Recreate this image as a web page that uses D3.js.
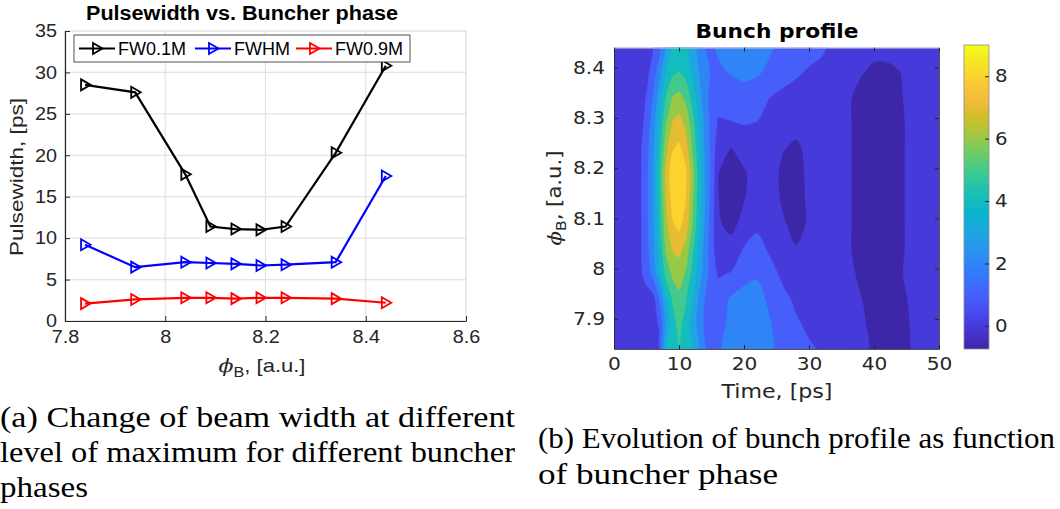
<!DOCTYPE html>
<html>
<head>
<meta charset="utf-8">
<title>Pulsewidth and bunch profile</title>
<script src="https://cdn.jsdelivr.net/npm/d3@7"></script>
<style>
  body { margin: 0; background: #fff; }
  .lft text { font-family: "Liberation Sans", Arial, sans-serif; }
  .rgt text { font-family: "DejaVu Sans", sans-serif; }
  .cap { font-family: "Liberation Serif", "Times New Roman", serif; fill: #000; }
</style>
</head>
<body>
<svg id="fig" width="1060" height="509"></svg>
<script>
// ---- left panel data ----
var phase = [7.84, 7.94, 8.04, 8.09, 8.14, 8.19, 8.24, 8.34, 8.44];
var fw01 = [28.5, 27.6, 17.7, 11.4, 11.1, 11.0, 11.4, 20.3, 30.8];
var fwhm = [9.2, 6.5, 7.1, 7.0, 6.9, 6.7, 6.8, 7.1, 17.5];
var fw09 = [2.1, 2.6, 2.8, 2.8, 2.7, 2.8, 2.8, 2.7, 2.2];
var seriesNames = ["FW0.1M", "FWHM", "FW0.9M"];
var seriesColors = ["#000000", "#0000ff", "#ff0000"];
var xTicksL = [7.8, 8, 8.2, 8.4, 8.6];
var yTicksL = [0, 5, 10, 15, 20, 25, 30, 35];

// ---- right panel data (bunch profile, rows = buncher phase, cols = time) ----
var profileTime = [0, 4, 5, 6, 7, 8, 9, 10, 11, 12, 13, 14, 15, 16, 18, 20, 22, 24, 26, 28, 30, 32, 34, 36, 38, 40, 42, 44, 46, 48, 50];
var profilePhase = [8.44, 8.39, 8.34, 8.29, 8.24, 8.19, 8.14, 8.09, 8.04, 7.99, 7.94, 7.89, 7.84];
var profile = [
  [0.5, 0.55, 0.65, 0.9, 1.6, 3.0, 4.05, 4.3, 4.1, 3.3, 2.6, 2.0, 1.8, 2.1, 2.6, 2.7, 2.6, 2.1, 1.7, 1.5, 1.3, 1.1, 0.75, 0.5, 0.35, 0.2, 0.2, 0.3, 0.45, 0.5, 0.5],
  [0.5, 0.6, 0.7, 1.4, 2.6, 4.0, 4.8, 5.05, 4.7, 3.9, 3.05, 2.3, 1.9, 1.85, 2.05, 2.2, 2.1, 1.8, 1.3, 1.1, 0.9, 0.8, 0.6, 0.35, 0.05, -0.15, -0.15, -0.02, 0.35, 0.45, 0.5],
  [0.5, 0.6, 1.05, 2.05, 3.4, 5.05, 6.05, 6.3, 5.8, 4.7, 3.5, 2.4, 1.6, 1.4, 1.5, 1.6, 1.4, 0.98, 0.8, 0.7, 0.6, 0.6, 0.5, 0.1, -0.25, -0.35, -0.35, -0.1, 0.3, 0.4, 0.45],
  [0.5, 0.6, 1.3, 2.5, 4.05, 5.9, 7.05, 7.35, 6.8, 5.5, 3.95, 2.7, 1.6, 0.9, 0.95, 1.05, 0.97, 0.75, 0.45, 0.3, 0.35, 0.4, 0.45, 0.1, -0.3, -0.4, -0.4, -0.15, 0.25, 0.4, 0.45],
  [0.5, 0.8, 1.6, 2.7, 4.4, 6.6, 7.9, 8.2, 7.5, 5.95, 4.3, 2.8, 1.6, 0.5, -0.03, 0.35, 0.55, 0.45, 0.05, -0.15, 0.2, 0.35, 0.4, 0.1, -0.3, -0.4, -0.4, -0.15, 0.25, 0.4, 0.45],
  [0.5, 0.8, 1.7, 2.9, 4.8, 7.2, 8.6, 9.0, 8.2, 6.5, 4.6, 2.95, 1.7, 0.03, -0.45, -0.1, 0.35, 0.4, -0.2, -0.35, 0.2, 0.4, 0.45, 0.1, -0.3, -0.4, -0.4, -0.15, 0.25, 0.4, 0.45],
  [0.5, 0.8, 1.7, 2.9, 4.7, 7.0, 8.4, 8.8, 8.05, 6.3, 4.5, 2.9, 1.6, 0.03, -0.45, -0.05, 0.4, 0.45, -0.15, -0.35, 0.15, 0.4, 0.45, 0.1, -0.3, -0.4, -0.4, -0.15, 0.25, 0.4, 0.45],
  [0.5, 0.8, 1.7, 2.8, 4.5, 6.7, 7.9, 8.3, 7.6, 6.05, 4.3, 2.8, 1.5, 0.1, -0.25, 0.25, 0.8, 0.55, 0.1, -0.3, 0.1, 0.35, 0.45, 0.1, -0.3, -0.4, -0.4, -0.15, 0.25, 0.4, 0.45],
  [0.5, 0.8, 1.6, 2.7, 4.2, 6.2, 7.1, 7.3, 6.7, 5.3, 3.8, 2.6, 1.3, 0.5, 0.3, 1.05, 1.3, 0.85, 0.45, 0.05, 0.2, 0.35, 0.45, 0.1, -0.3, -0.4, -0.4, -0.15, 0.25, 0.4, 0.45],
  [0.5, 0.75, 1.4, 2.3, 3.7, 5.3, 6.2, 6.4, 5.9, 4.7, 3.5, 2.5, 1.4, 0.9, 1.05, 1.6, 1.9, 1.3, 0.8, 0.6, 0.5, 0.5, 0.5, 0.25, -0.2, -0.35, -0.35, -0.1, 0.3, 0.4, 0.45],
  [0.5, 0.5, 0.55, 0.6, 2.05, 3.9, 5.1, 5.75, 5.1, 4.1, 2.9, 1.95, 1.6, 1.5, 2.1, 2.4, 2.3, 1.8, 1.2, 0.85, 0.7, 0.6, 0.55, 0.4, 0.02, -0.3, -0.35, -0.2, 0.15, 0.35, 0.45],
  [0.5, 0.5, 0.55, 0.6, 1.1, 3.2, 4.6, 5.3, 4.6, 3.6, 2.6, 1.8, 1.5, 1.5, 2.3, 2.5, 2.4, 2.05, 1.5, 1.1, 0.85, 0.7, 0.6, 0.5, 0.15, -0.25, -0.35, -0.25, 0.08, 0.35, 0.45],
  [0.5, 0.5, 0.5, 0.55, 0.7, 3.9, 4.6, 4.95, 4.5, 3.9, 2.95, 2.05, 1.7, 1.8, 2.4, 2.6, 2.5, 2.1, 1.7, 1.35, 1.1, 0.9, 0.7, 0.55, 0.25, -0.2, -0.3, -0.25, 0.03, 0.3, 0.4]
];
var levels = [0, 1, 2, 3, 4, 5, 6, 7, 8];
var cLimits = [-0.74, 9.0];
var xTicksR = [0, 10, 20, 30, 40, 50];
var yTicksR = [7.9, 8, 8.1, 8.2, 8.3, 8.4];
var cbarTicks = [0, 2, 4, 6, 8];

// parula colormap stops
var parulaStops = ["#3e26a8", "#4537d5", "#484df0", "#4563fd", "#327cfc", "#2b91ef", "#20a5e3", "#08b5d0",
  "#19bfb6", "#37c897", "#64cd6f", "#9dc943", "#d1bf27", "#f8ba3d", "#fccf30", "#f5e924", "#f9fb15"];
var parulaPos = [0, 4, 8, 12, 16, 20, 24, 28, 32, 36, 40, 44, 48, 52, 56, 60, 63].map(function (d) { return d / 63; });
var parula = d3.scaleLinear().domain(parulaPos).range(parulaStops).interpolate(d3.interpolateRgb).clamp(true);
function cmap(v) { return parula((v - cLimits[0]) / (cLimits[1] - cLimits[0])); }

var axisColor = "#262626";
var gridColor = "#e3e3e3";
var svg = d3.select("#fig");

// widen text to the reference's proportions
function stretch(sel, k) {
  sel.each(function () {
    var w = this.getComputedTextLength();
    d3.select(this).attr("textLength", w * k).attr("lengthAdjust", "spacingAndGlyphs");
  });
}
function fitTo(sel, w) {
  sel.attr("textLength", w).attr("lengthAdjust", "spacingAndGlyphs");
}

// ================= left chart =================
var L = { left: 65, right: 466, top: 31, bottom: 321 };
var x = d3.scaleLinear().domain([7.8, 8.6]).range([L.left, L.right]);
var y = d3.scaleLinear().domain([0, 35]).range([L.bottom, L.top]);
var gl = svg.append("g").attr("class", "lft");

// grid
gl.append("g").selectAll("line").data(xTicksL.slice(1, -1)).enter().append("line")
  .attr("x1", x).attr("x2", x).attr("y1", L.top).attr("y2", L.bottom)
  .attr("stroke", gridColor).attr("stroke-width", 1.2);
gl.append("g").selectAll("line").data(yTicksL.slice(1, -1)).enter().append("line")
  .attr("y1", y).attr("y2", y).attr("x1", L.left).attr("x2", L.right)
  .attr("stroke", gridColor).attr("stroke-width", 1.2);

// box
gl.append("rect").attr("x", L.left).attr("y", L.top)
  .attr("width", L.right - L.left).attr("height", L.bottom - L.top)
  .attr("fill", "none").attr("stroke", "#d6d6d6").attr("stroke-width", 1);

var xAxisL = gl.append("g").attr("transform", "translate(0," + L.bottom + ")")
  .call(d3.axisBottom(x).tickValues(xTicksL).tickFormat(d3.format("")).tickSizeInner(-5).tickSizeOuter(0).tickPadding(9));
var yAxisL = gl.append("g").attr("transform", "translate(" + L.left + ",0)")
  .call(d3.axisLeft(y).tickValues(yTicksL).tickSizeInner(-5).tickSizeOuter(0).tickPadding(8));
[xAxisL, yAxisL].forEach(function (a) {
  a.select(".domain").attr("stroke", axisColor).attr("stroke-width", 1.2);
  a.selectAll(".tick line").attr("stroke", axisColor);
  a.selectAll(".tick text").attr("fill", axisColor).style("font-size", "18px");
  stretch(a.selectAll(".tick text"), 1.1);
});

// series
var seriesData = [fw01, fwhm, fw09];
var line = d3.line().x(function (d) { return x(d[0]); }).y(function (d) { return y(d[1]); });
var marker = "M-4,-5.5L5.5,0L-4,5.5Z";
seriesData.forEach(function (vals, k) {
  var pts = phase.map(function (p, i) { return [p, vals[i]]; });
  var g = gl.append("g");
  g.append("path").attr("d", line(pts)).attr("fill", "none")
    .attr("stroke", seriesColors[k]).attr("stroke-width", 2.2);
  g.selectAll("path.m").data(pts).enter().append("path").attr("class", "m")
    .attr("d", marker)
    .attr("transform", function (d) { return "translate(" + x(d[0]) + "," + y(d[1]) + ")"; })
    .attr("fill", "none").attr("stroke", seriesColors[k]).attr("stroke-width", 1.8);
});

// legend
var lg = gl.append("g");
lg.append("rect").attr("x", 74).attr("y", 35).attr("width", 336).attr("height", 27)
  .attr("fill", "#fff").attr("stroke", axisColor).attr("stroke-width", 0.8);
var legX = [79, 195, 296];
seriesNames.forEach(function (name, k) {
  var lx = legX[k], ly = 48.5;
  lg.append("line").attr("x1", lx).attr("x2", lx + 36).attr("y1", ly).attr("y2", ly)
    .attr("stroke", seriesColors[k]).attr("stroke-width", 2.2);
  lg.append("path").attr("d", marker).attr("transform", "translate(" + (lx + 18) + "," + ly + ")")
    .attr("fill", "none").attr("stroke", seriesColors[k]).attr("stroke-width", 1.8);
  lg.append("text").attr("x", lx + 39).attr("y", ly + 6.5).text(name)
    .style("font-size", "18px").attr("fill", "#000");
});

// titles and labels
fitTo(gl.append("text").attr("x", 242).attr("y", 20).attr("text-anchor", "middle")
  .style("font-size", "20px").style("font-weight", "bold").attr("fill", "#000")
  .text("Pulsewidth vs. Buncher phase"), 312);
fitTo(gl.append("text").attr("transform", "translate(23,177) rotate(-90)").attr("text-anchor", "middle")
  .style("font-size", "19px").attr("fill", axisColor).text("Pulsewidth, [ps]"), 158);
var xl = gl.append("text").attr("x", 262).attr("y", 372).attr("text-anchor", "middle")
  .style("font-size", "19px").attr("fill", axisColor);
xl.append("tspan").style("font-family", "'DejaVu Serif', serif").style("font-style", "italic").text("\u03d5");
xl.append("tspan").attr("dy", 5).style("font-size", "14px").text("B");
xl.append("tspan").attr("dy", -5).text(", [a.u.]");
fitTo(xl, 87);

// ================= right chart =================
var R = { left: 614, right: 939, top: 47.7, bottom: 349 };
var hx = d3.scaleLinear().domain([0, 50]).range([R.left, R.right]);
var hy = d3.scaleLinear().domain([7.84, 8.44]).range([R.bottom, R.top]);
var gr = svg.append("g").attr("class", "rgt");

gr.append("clipPath").attr("id", "hclip").append("rect")
  .attr("x", R.left).attr("y", R.top).attr("width", R.right - R.left).attr("height", R.bottom - R.top);

var n = profileTime.length, m = profilePhase.length;
var values = [].concat.apply([], profile);
var idxT = d3.scaleLinear().domain(d3.range(n)).range(profileTime);
var idxP = d3.scaleLinear().domain(d3.range(m)).range(profilePhase);
function gx(c) { return hx(idxT(Math.max(0, Math.min(n - 1, c - 0.5)))); }
function gy(c) { return hy(idxP(Math.max(0, Math.min(m - 1, c - 0.5)))); }
var contours = d3.contours().size([n, m]).thresholds(levels)(values);

// rings drawn as smooth closed curves, like the interpolated filled contours
var ringLine = d3.line().curve(d3.curveCatmullRomClosed.alpha(0.5));
function contourPath(mp) {
  var parts = [];
  mp.coordinates.forEach(function (poly) {
    poly.forEach(function (ring) {
      var pts = ring.slice(0, -1).map(function (p) { return [gx(p[0]), gy(p[1])]; });
      parts.push(ringLine(pts));
    });
  });
  return parts.join("");
}

var hg = gr.append("g").attr("clip-path", "url(#hclip)");
hg.append("rect").attr("x", R.left).attr("y", R.top).attr("width", R.right - R.left)
  .attr("height", R.bottom - R.top).attr("fill", cmap(cLimits[0]));
hg.selectAll("path").data(contours).enter().append("path")
  .attr("d", contourPath).attr("fill-rule", "evenodd")
  .attr("fill", function (d) { return cmap(d.value); })
  .attr("stroke", function (d) { return cmap(d.value); }).attr("stroke-width", 0.5);

var xAxisR = gr.append("g").attr("transform", "translate(0," + R.bottom + ")")
  .call(d3.axisBottom(hx).tickValues(xTicksR).tickSizeInner(-4).tickSizeOuter(0).tickPadding(8));
var xAxisRt = gr.append("g").attr("transform", "translate(0," + R.top + ")")
  .call(d3.axisTop(hx).tickValues(xTicksR).tickSizeInner(-4).tickSizeOuter(0).tickFormat(""));
var yAxisR = gr.append("g").attr("transform", "translate(" + R.left + ",0)")
  .call(d3.axisLeft(hy).tickValues(yTicksR).tickFormat(d3.format("")).tickSizeInner(-4).tickSizeOuter(0).tickPadding(9));
var yAxisRr = gr.append("g").attr("transform", "translate(" + R.right + ",0)")
  .call(d3.axisRight(hy).tickValues(yTicksR).tickSizeInner(-4).tickSizeOuter(0).tickFormat(""));
[xAxisR, xAxisRt, yAxisR, yAxisRr].forEach(function (a) {
  a.select(".domain").attr("stroke", axisColor).attr("stroke-width", 0.8);
  a.selectAll(".tick line").attr("stroke", axisColor);
  a.selectAll(".tick text").attr("fill", axisColor).style("font-size", "18px");
});
stretch(xAxisR.selectAll(".tick text"), 1.12);
stretch(yAxisR.selectAll(".tick text"), 1.12);
xAxisRt.select(".domain").attr("stroke", "#c8c8c8");

fitTo(gr.append("text").attr("x", 777).attr("y", 38).attr("text-anchor", "middle")
  .style("font-size", "20px").style("font-weight", "bold").attr("fill", "#000").text("Bunch profile"), 163);
fitTo(gr.append("text").attr("x", 777).attr("y", 398).attr("text-anchor", "middle")
  .style("font-size", "19px").attr("fill", axisColor).text("Time, [ps]"), 111);
var yl = gr.append("text").attr("transform", "translate(561,198) rotate(-90)").attr("text-anchor", "middle")
  .style("font-size", "19px").attr("fill", axisColor);
yl.append("tspan").style("font-family", "'DejaVu Serif', serif").style("font-style", "italic").text("\u03d5");
yl.append("tspan").attr("dy", 5).style("font-size", "14px").text("B");
yl.append("tspan").attr("dy", -5).text(", [a.u.]");
fitTo(yl, 95);

// colorbar
var C = { left: 964, right: 989, top: 45, bottom: 349 };
var cy = d3.scaleLinear().domain(cLimits).range([C.bottom, C.top]);
var grad = svg.append("defs").append("linearGradient").attr("id", "cbar")
  .attr("x1", 0).attr("y1", 1).attr("x2", 0).attr("y2", 0);
d3.range(0, 1.0001, 1 / 64).forEach(function (t) {
  grad.append("stop").attr("offset", t).attr("stop-color", parula(t));
});
gr.append("rect").attr("x", C.left).attr("y", C.top).attr("width", C.right - C.left)
  .attr("height", C.bottom - C.top).attr("fill", "url(#cbar)").attr("stroke", "#8c8c8c").attr("stroke-width", 0.8);
var cAxis = gr.append("g").attr("transform", "translate(" + C.right + ",0)")
  .call(d3.axisRight(cy).tickValues(cbarTicks).tickSizeInner(-4).tickSizeOuter(0).tickPadding(6));
cAxis.select(".domain").remove();
cAxis.selectAll(".tick line").attr("stroke", axisColor);
cAxis.selectAll(".tick text").attr("fill", axisColor).style("font-size", "18px");
stretch(cAxis.selectAll(".tick text"), 1.1);

// ================= captions =================
var caps = [
  { x: 0, y: 427, text: "(a) Change of beam width at different", w: 515 },
  { x: 0, y: 462, text: "level of maximum for different buncher", w: 515 },
  { x: 0, y: 497, text: "phases", w: 88 },
  { x: 538, y: 448, text: "(b) Evolution of bunch profile as function", w: 517 },
  { x: 538, y: 484, text: "of buncher phase", w: 240 }
];
caps.forEach(function (c) {
  fitTo(svg.append("text").attr("class", "cap").attr("x", c.x).attr("y", c.y)
    .style("font-size", "30px").text(c.text), c.w);
});
</script>
</body>
</html>
